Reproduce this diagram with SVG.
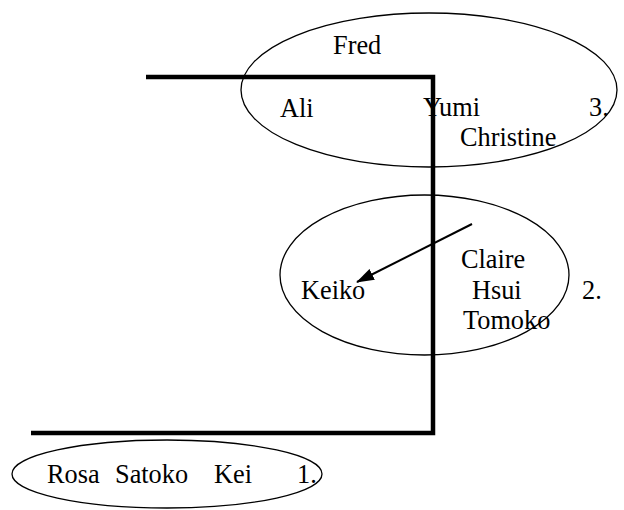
<svg xmlns="http://www.w3.org/2000/svg" width="624" height="510" viewBox="0 0 624 510">
<style>
.e{fill:none;stroke:#000;stroke-width:1.3}
.w{fill:none;stroke:#000;stroke-width:4.5;stroke-linejoin:miter}
text{font-family:"Liberation Serif","Times New Roman",serif;font-size:26.3px;fill:#000}
</style>
<defs>
<marker id="ah2" markerWidth="18" markerHeight="12" refX="17" refY="6" orient="auto" markerUnits="userSpaceOnUse">
<path d="M0,0 L18,6 L0,12 z" fill="#000"/>
</marker>
</defs>
<g id="group3">
<ellipse class="e" cx="429" cy="90" rx="188" ry="77"/>
<text x="333" y="54">Fred</text>
<text x="280" y="117">Ali</text>
<text x="423" y="116">Yumi</text>
<text x="589" y="116">3.</text>
<text x="460" y="146">Christine</text>
</g>
<g id="group2">
<ellipse class="e" cx="424.5" cy="275" rx="144.5" ry="80"/>
<text x="461" y="268">Claire</text>
<text x="301" y="299">Keiko</text>
<text x="472" y="299">Hsui</text>
<text x="582" y="299">2.</text>
<text x="463" y="329">Tomoko</text>
</g>
<g id="group1">
<ellipse class="e" cx="167" cy="474" rx="155" ry="34"/>
<text x="47" y="483">Rosa</text>
<text x="115" y="483">Satoko</text>
<text x="214" y="483">Kei</text>
<text x="297" y="483">1.</text>
</g>
<g id="connectors">
<path class="w" d="M146,77 H433 V433 H31"/>
<line x1="472" y1="224" x2="357" y2="282" stroke="#000" stroke-width="2" marker-end="url(#ah2)"/>
</g>
</svg>
